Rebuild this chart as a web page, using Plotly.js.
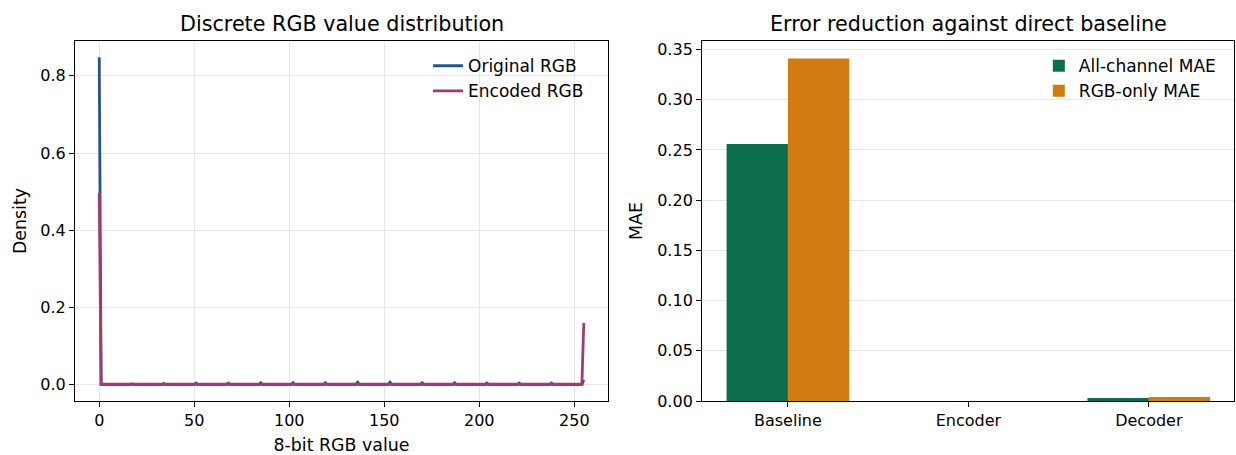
<!DOCTYPE html>
<html>
<head>
<meta charset="utf-8">
<script src="https://cdn.plot.ly/plotly-3.0.1.min.js"></script>
<style>html,body{margin:0;padding:0;background:#fff;}#chart{width:1236px;height:455px;}</style>
</head>
<body>
<div id="chart"></div>
<script>
// ---- Left panel: density of discrete 8-bit RGB values (index = RGB value 0..255) ----
const originalRGB = [
  0.848, 0,0,0,0,0,0,0,0,0,0,0,0,0,0,0,0,
  0.002, 0,0,0,0,0,0,0,0,0,0,0,0,0,0,0,0,
  0.003, 0,0,0,0,0,0,0,0,0,0,0,0,0,0,0,0,
  0.004, 0,0,0,0,0,0,0,0,0,0,0,0,0,0,0,0,
  0.004, 0,0,0,0,0,0,0,0,0,0,0,0,0,0,0,0,
  0.005, 0,0,0,0,0,0,0,0,0,0,0,0,0,0,0,0,
  0.005, 0,0,0,0,0,0,0,0,0,0,0,0,0,0,0,0,
  0.005, 0,0,0,0,0,0,0,0,0,0,0,0,0,0,0,0,
  0.006, 0,0,0,0,0,0,0,0,0,0,0,0,0,0,0,0,
  0.006, 0,0,0,0,0,0,0,0,0,0,0,0,0,0,0,0,
  0.005, 0,0,0,0,0,0,0,0,0,0,0,0,0,0,0,0,
  0.005, 0,0,0,0,0,0,0,0,0,0,0,0,0,0,0,0,
  0.004, 0,0,0,0,0,0,0,0,0,0,0,0,0,0,0,0,
  0.004, 0,0,0,0,0,0,0,0,0,0,0,0,0,0,0,0,
  0.004, 0,0,0,0,0,0,0,0,0,0,0,0,0,0,0,0,
  0.012
];
const encodedRGB = [
  0.497, 0.001,0.001,0.001,0.001,0.001,0.001,0.001,0.001,0.001,0.001,0.001,0.001,0.001,0.001,0.001,0.001,
  0.001,0.001,0.001,0.001,0.001,0.001,0.001,0.001,0.001,0.001,0.001,0.001,0.001,0.001,0.001,0.001,0.001,
  0.001,0.001,0.001,0.001,0.001,0.001,0.001,0.001,0.001,0.001,0.001,0.001,0.001,0.001,0.001,0.001,0.001,
  0.001,0.001,0.001,0.001,0.001,0.001,0.001,0.001,0.001,0.001,0.001,0.001,0.001,0.001,0.001,0.001,0.001,
  0.001,0.001,0.001,0.001,0.001,0.001,0.001,0.001,0.001,0.001,0.001,0.001,0.001,0.001,0.001,0.001,0.001,
  0.001,0.001,0.001,0.001,0.001,0.001,0.001,0.001,0.001,0.001,0.001,0.001,0.001,0.001,0.001,0.001,0.001,
  0.001,0.001,0.001,0.001,0.001,0.001,0.001,0.001,0.001,0.001,0.001,0.001,0.001,0.001,0.001,0.001,0.001,
  0.001,0.001,0.001,0.001,0.001,0.001,0.001,0.001,0.001,0.001,0.001,0.001,0.001,0.001,0.001,0.001,0.001,
  0.001,0.001,0.001,0.001,0.001,0.001,0.001,0.001,0.001,0.001,0.001,0.001,0.001,0.001,0.001,0.001,0.001,
  0.001,0.001,0.001,0.001,0.001,0.001,0.001,0.001,0.001,0.001,0.001,0.001,0.001,0.001,0.001,0.001,0.001,
  0.001,0.001,0.001,0.001,0.001,0.001,0.001,0.001,0.001,0.001,0.001,0.001,0.001,0.001,0.001,0.001,0.001,
  0.001,0.001,0.001,0.001,0.001,0.001,0.001,0.001,0.001,0.001,0.001,0.001,0.001,0.001,0.001,0.001,0.001,
  0.001,0.001,0.001,0.001,0.001,0.001,0.001,0.001,0.001,0.001,0.001,0.001,0.001,0.001,0.001,0.001,0.001,
  0.001,0.001,0.001,0.001,0.001,0.001,0.001,0.001,0.001,0.001,0.001,0.001,0.001,0.001,0.001,0.001,0.001,
  0.001,0.001,0.001,0.001,0.001,0.001,0.001,0.001,0.001,0.001,0.001,0.001,0.001,0.001,0.001,0.001,0.001,
  0.160
];
const rgbValues = originalRGB.map((_, i) => i);
const leftXTicks = [0, 50, 100, 150, 200, 250];
const leftYTicks = [0.0, 0.2, 0.4, 0.6, 0.8];

// ---- Right panel: MAE per stage ----
const stages = ['Baseline', 'Encoder', 'Decoder'];
const allChannelMAE = [0.256, 0.0, 0.003];
const rgbOnlyMAE = [0.341, 0.0, 0.004];
const rightYTicks = [0.00, 0.05, 0.10, 0.15, 0.20, 0.25, 0.30, 0.35];

const FONT = 'DejaVu Sans, sans-serif';
const GRID = '#e6e6e6';
const TICK = 16;
const LABEL = 17.4;
const LEG = 17;
const TITLE = 20.7;

const traces = [
  {x: rgbValues, y: originalRGB, type: 'scatter', mode: 'lines', name: 'Original RGB',
   line: {color: '#24538f', width: 2.8}, xaxis: 'x', yaxis: 'y', legend: 'legend'},
  {x: rgbValues, y: encodedRGB, type: 'scatter', mode: 'lines', name: 'Encoded RGB',
   line: {color: '#a23b72', width: 2.8}, xaxis: 'x', yaxis: 'y', legend: 'legend'},
  {x: stages, y: allChannelMAE, type: 'bar', name: 'All-channel MAE',
   marker: {color: '#0c6e4f', line: {width: 0}}, xaxis: 'x2', yaxis: 'y2', legend: 'legend2'},
  {x: stages, y: rgbOnlyMAE, type: 'bar', name: 'RGB-only MAE',
   marker: {color: '#d27b10', line: {width: 0}}, xaxis: 'x2', yaxis: 'y2', legend: 'legend2'}
];

const axCommon = {
  showline: true, mirror: true, linecolor: '#000', linewidth: 1,
  ticks: 'outside', ticklen: 5, tickwidth: 1, tickcolor: '#000',
  tickfont: {family: FONT, size: TICK, color: '#000'},
  zeroline: false, gridcolor: GRID, gridwidth: 1, automargin: false
};

const layout = {
  width: 1236, height: 455,
  paper_bgcolor: '#fff', plot_bgcolor: '#fff',
  margin: {l: 75, r: 2, t: 41, b: 54},
  font: {family: FONT, color: '#000'},
  barmode: 'group', bargap: 0.32, bargroupgap: 0,
  xaxis: Object.assign({}, axCommon, {
    domain: [0, 0.4599], range: [-12.75, 267.75], tickvals: leftXTicks, showgrid: true,
    title: {text: '8-bit RGB value', font: {family: FONT, size: LABEL}, standoff: 9}
  }),
  yaxis: Object.assign({}, axCommon, {
    domain: [0, 1], range: [-0.0424, 0.8904], tickvals: leftYTicks, tickformat: '.1f', showgrid: true,
    title: {text: 'Density', font: {family: FONT, size: LABEL}, standoff: 9}
  }),
  xaxis2: Object.assign({}, axCommon, {
    domain: [0.541, 1], range: [-0.476, 2.472], type: 'category', showgrid: false
  }),
  yaxis2: Object.assign({}, axCommon, {
    domain: [0, 1], anchor: 'x2', range: [0, 0.3585], tickvals: rightYTicks, tickformat: '.2f', showgrid: true,
    title: {text: 'MAE', font: {family: FONT, size: LABEL}, standoff: 10}
  }),
  legend: {
    x: 0.3046, y: 0.98, xanchor: 'left', yanchor: 'top', bgcolor: 'rgba(0,0,0,0)',
    font: {family: FONT, size: LEG}, itemwidth: 30
  },
  legend2: {
    x: 0.8316, y: 0.98, xanchor: 'left', yanchor: 'top', bgcolor: 'rgba(0,0,0,0)',
    font: {family: FONT, size: LEG}, itemwidth: 30
  },
  annotations: [
    {text: 'Discrete RGB value distribution', xref: 'paper', yref: 'paper', x: 0.23, y: 1,
     xanchor: 'center', yanchor: 'bottom', yshift: 3, showarrow: false, font: {family: FONT, size: TITLE}},
    {text: 'Error reduction against direct baseline', xref: 'paper', yref: 'paper', x: 0.7705, y: 1,
     xanchor: 'center', yanchor: 'bottom', yshift: 3, showarrow: false, font: {family: FONT, size: TITLE}}
  ]
};

Plotly.newPlot('chart', traces, layout, {displayModeBar: false, staticPlot: true});
</script>
</body>
</html>
